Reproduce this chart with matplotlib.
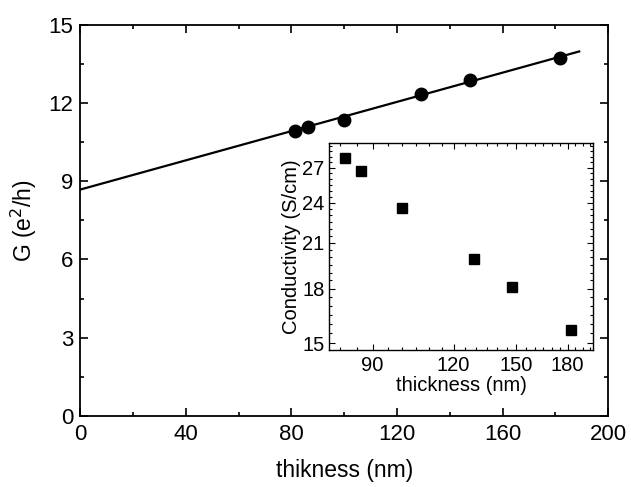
import matplotlib
matplotlib.use("Agg")
import matplotlib.pyplot as plt
import numpy as np
from matplotlib.ticker import FixedLocator, NullFormatter, FixedFormatter, MultipleLocator

plt.rcParams['font.family'] = ['Liberation Sans', 'DejaVu Sans']

# Main data: conductance vs thickness
thickness = [81.5, 86.4, 99.8, 128.9, 147.7, 181.8]
G = [10.93, 11.09, 11.34, 12.34, 12.89, 13.71]
# Linear fit line
fit_x = [0, 189]
fit_y = [8.68, 13.98]

# Inset data: conductivity vs thickness
cond = [27.9, 26.67, 23.6, 19.9, 18.1, 15.68]

main_xticks = [0, 40, 80, 120, 160, 200]
main_yticks = [0, 3, 6, 9, 12, 15]
inset_xticks = [90, 120, 150, 180]
inset_yticks = [15, 18, 21, 24, 27]

fig = plt.figure(figsize=(6.31, 4.87), dpi=100)
ax = fig.add_axes([0.127, 0.146, 0.837, 0.803])

ax.plot(fit_x, fit_y, color='black', lw=1.6, zorder=2)
ax.plot(thickness, G, 'o', color='black', ms=9, zorder=3)

ax.set_xlim(0, 200)
ax.set_ylim(0, 15)
ax.set_xticks(main_xticks)
ax.set_yticks(main_yticks)
ax.xaxis.set_minor_locator(MultipleLocator(20))
ax.yaxis.set_minor_locator(MultipleLocator(1.5))
ax.tick_params(which='both', direction='in', top=True, right=True, labelsize=16, width=1.2)
ax.tick_params(which='major', length=6)
ax.tick_params(which='minor', length=3)
ax.tick_params(axis='x', pad=6)
ax.tick_params(axis='y', pad=5)
for s in ax.spines.values():
    s.set_linewidth(1.3)
ax.set_xlabel('thikness (nm)', fontsize=16.5, labelpad=10)
ax.set_ylabel('G (e$^2$/h)', fontsize=16.5, labelpad=7)

# Inset
ins = fig.add_axes([0.521, 0.281, 0.419, 0.425])
ins.plot(thickness, cond, 's', color='black', ms=6.5)
ins.set_xscale('log')
ins.set_yscale('log')
ins.set_xlim(77, 197)
ins.set_ylim(14.65, 29.3)
ins.xaxis.set_major_locator(FixedLocator(inset_xticks))
ins.xaxis.set_major_formatter(FixedFormatter([str(v) for v in inset_xticks]))
ins.yaxis.set_major_locator(FixedLocator(inset_yticks))
ins.yaxis.set_major_formatter(FixedFormatter([str(v) for v in inset_yticks]))
ins.xaxis.set_minor_locator(FixedLocator(np.arange(75, 200, 5)))
ins.yaxis.set_minor_locator(FixedLocator(np.arange(14.5, 30, 0.5)))
ins.xaxis.set_minor_formatter(NullFormatter())
ins.yaxis.set_minor_formatter(NullFormatter())
ins.tick_params(which='both', direction='in', top=True, right=True, labelsize=14.5, width=0.8)
ins.tick_params(which='major', length=4)
ins.tick_params(which='minor', length=2)
ins.tick_params(axis='x', pad=4)
ins.tick_params(axis='y', pad=3)
for s in ins.spines.values():
    s.set_linewidth(1.0)
ins.set_xlabel('thickness (nm)', fontsize=14.5, labelpad=1)
ins.set_ylabel('Conductivity (S/cm)', fontsize=14.5, labelpad=1)

fig.savefig('out.png', dpi=100)
